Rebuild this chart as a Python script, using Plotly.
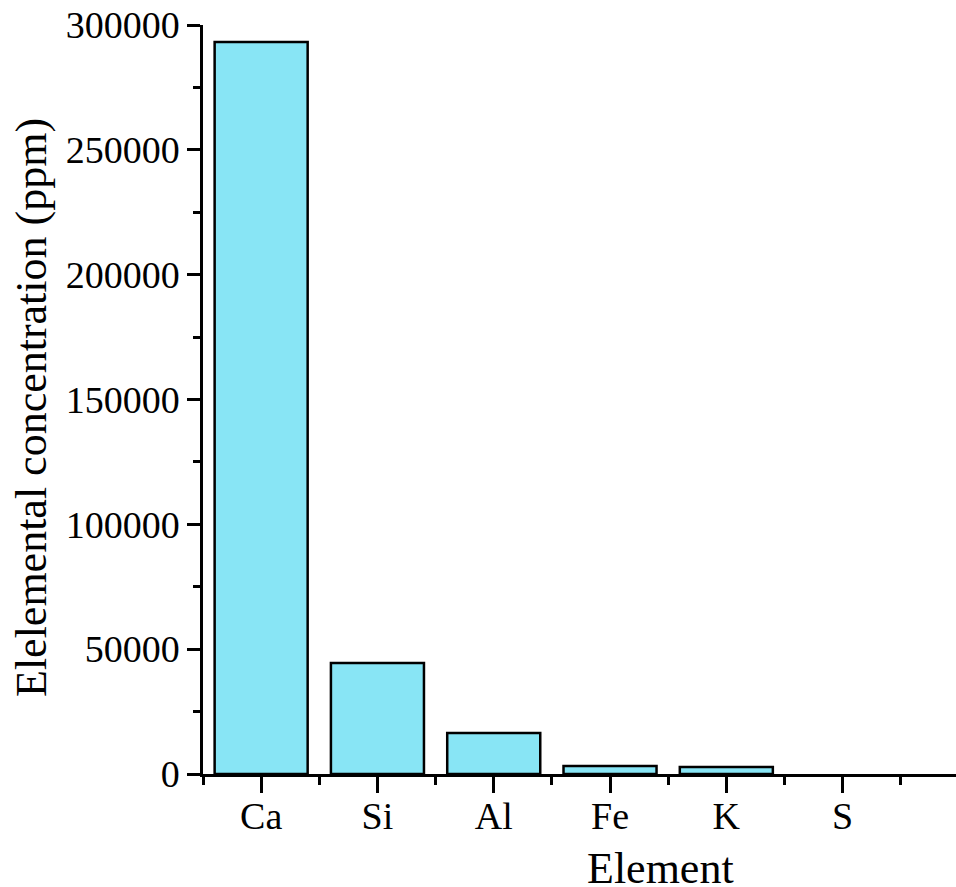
import plotly.graph_objects as go

elements = ["Ca", "Si", "Al", "Fe", "K", "S"]
concentration = [293200, 44500, 16400, 3200, 2800, 0]
y_tickvals = [0, 50000, 100000, 150000, 200000, 250000, 300000]
y_ticktext = ["0", "50000", "100000", "150000", "200000", "250000", "300000"]

FONT = "Liberation Serif"
W, H = 956, 887
ML, MR, MT, MB = 203, 0, 25, 113

fig = go.Figure()
fig.add_trace(go.Bar(
    x=list(range(len(elements))),
    y=concentration,
    width=0.8,
    marker=dict(color="#88E5F5",
                line=dict(color="black",
                          width=[2.5 if v > 0 else 0 for v in concentration])),
    showlegend=False,
))

fig.update_layout(
    width=W, height=H, autosize=False,
    margin=dict(l=ML, r=MR, t=MT, b=MB, pad=0),
    plot_bgcolor="white", paper_bgcolor="white",
    font=dict(family=FONT, color="black", size=38),
    bargap=0.2,
)

fig.update_xaxes(
    range=[-0.5, 5.975],
    tickmode="array",
    tickvals=list(range(len(elements))),
    ticktext=elements,
    showline=True, linecolor="black", linewidth=2.5,
    ticks="outside", ticklen=16, tickwidth=2.5, tickcolor="black",
    ticklabelstandoff=-9,
    minor=dict(tickmode="linear", tick0=-0.5, dtick=1, ticks="outside",
               ticklen=8, tickwidth=2.5, tickcolor="black", showgrid=False),
    showgrid=False, zeroline=False,
    tickfont=dict(family=FONT, size=38, color="black"),
)

fig.update_yaxes(
    range=[0, 300000],
    tickmode="array",
    tickvals=y_tickvals,
    ticktext=y_ticktext,
    showline=True, linecolor="black", linewidth=2.5,
    ticks="outside", ticklen=13, tickwidth=2.5, tickcolor="black",
    minor=dict(tickmode="linear", tick0=0, dtick=25000, ticks="outside",
               ticklen=7, tickwidth=2.5, tickcolor="black", showgrid=False),
    showgrid=False, zeroline=False,
    tickfont=dict(family=FONT, size=38, color="black"),
)

pw = W - ML - MR
ph = H - MT - MB

fig.add_annotation(
    text="Elelemental concentration (ppm)",
    xref="paper", yref="paper",
    x=(31 - ML) / pw, y=(H - MB - 408) / ph,
    xanchor="center", yanchor="middle",
    textangle=-90, showarrow=False,
    font=dict(family=FONT, size=44, color="black"),
)
fig.add_annotation(
    text="Element",
    xref="paper", yref="paper",
    x=(660 - ML) / pw, y=(H - MB - 868) / ph,
    xanchor="center", yanchor="middle",
    showarrow=False,
    font=dict(family=FONT, size=44, color="black"),
)

fig.write_html("out.html")
